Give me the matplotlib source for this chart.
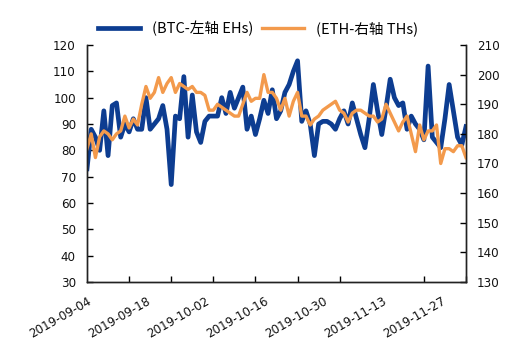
import matplotlib
matplotlib.use('Agg')
import matplotlib.pyplot as plt
import matplotlib.transforms as mtransforms
import pandas as pd

plt.rcParams['font.family'] = ['Noto Sans CJK SC', 'DejaVu Sans']

# daily data, 2019-09-04 .. 2019-12-03
dates = pd.date_range('2019-09-04', periods=91, freq='D')
btc = [73, 88, 85, 80, 95, 78, 97, 98, 85, 90, 87, 92, 88, 88,
       100, 88, 90, 92, 97, 88, 67, 93, 92, 108, 85, 101, 87, 83,
       91, 93, 93, 93, 100, 94, 102, 96, 100, 104, 88, 93, 86,
       92, 99, 94, 103, 92, 95, 102, 105, 110, 114, 91, 95, 90, 78,
       90, 91, 91, 90, 88, 92, 95, 90, 98, 92, 86, 81, 92, 105,
       95, 86, 96, 107, 100, 97, 98, 88, 93, 90, 88, 84, 112,
       85, 83, 81, 92, 105, 95, 85, 82, 89]
eth = [175, 180, 172, 179, 181, 180, 178, 180, 181, 186, 182, 185, 183, 190,
       196, 192, 194, 199, 194, 197, 199, 194, 197, 196, 195, 196, 194, 194,
       193, 188, 188, 190, 189, 188, 187, 186, 186, 190, 194, 191, 192,
       192, 200, 194, 194, 192, 188, 192, 186, 191, 194, 186, 186, 183, 185,
       186, 188, 189, 190, 191, 188, 187, 184, 187, 188, 188, 187, 186, 186,
       184, 185, 190, 187, 184, 181, 184, 186, 180, 174, 183, 178, 181,
       181, 183, 170, 175, 175, 174, 176, 176, 172]
labels = ['(BTC-左轴 EHs)', '(ETH-右轴 THs)']

fig = plt.figure(figsize=(5.16, 3.42), dpi=100)
ax = fig.add_axes([87/516, 1-282/342, (466-87)/516, (282-45)/342])
ax2 = ax.twinx()

l1, = ax.plot(dates, btc, color='#0d3d91', lw=3.4)
l2, = ax2.plot(dates, eth, color='#f39a4c', lw=2.4)

ax.set_ylim(30, 120)
ax.set_yticks(range(30, 121, 10))
ax2.set_ylim(130, 210)
ax2.set_yticks(range(130, 211, 10))

ax.set_xlim(dates[0], dates[-1])
ax.set_xticks(dates[::14])
ax.set_xticklabels([d.strftime('%Y-%m-%d') for d in dates[::14]],
                   rotation=30, ha='right', va='top')
ax.set_xticks(dates[::10], minor=True)
ax.tick_params(axis='x', which='major', length=0, pad=9)
ax.tick_params(axis='x', which='minor', direction='in', length=4, width=1)
ax.tick_params(axis='y', direction='in', length=4, width=1, pad=8)
ax2.tick_params(axis='y', direction='in', length=4, width=1, pad=8)

offset = mtransforms.ScaledTranslation(7/100, 0, fig.dpi_scale_trans)
for t in ax.get_xticklabels():
    t.set_transform(t.get_transform() + offset)
for t in ax.get_xticklabels() + ax.get_yticklabels() + ax2.get_yticklabels():
    t.set_family('DejaVu Sans')
    t.set_fontsize(8.6)
    t.set_color('#111111')

for a in (ax, ax2):
    a.spines['top'].set_visible(False)
    for s in ('left', 'right', 'bottom'):
        a.spines[s].set_color('#222222')
        a.spines[s].set_linewidth(1.0)

fig.legend([l1, l2], labels, loc='center', bbox_to_anchor=(0.5, 1-28/342),
           ncol=2, frameon=False, fontsize=10.5, handlelength=2.9,
           columnspacing=0.6, handletextpad=0.8)

fig.savefig('out.png', dpi=100)
